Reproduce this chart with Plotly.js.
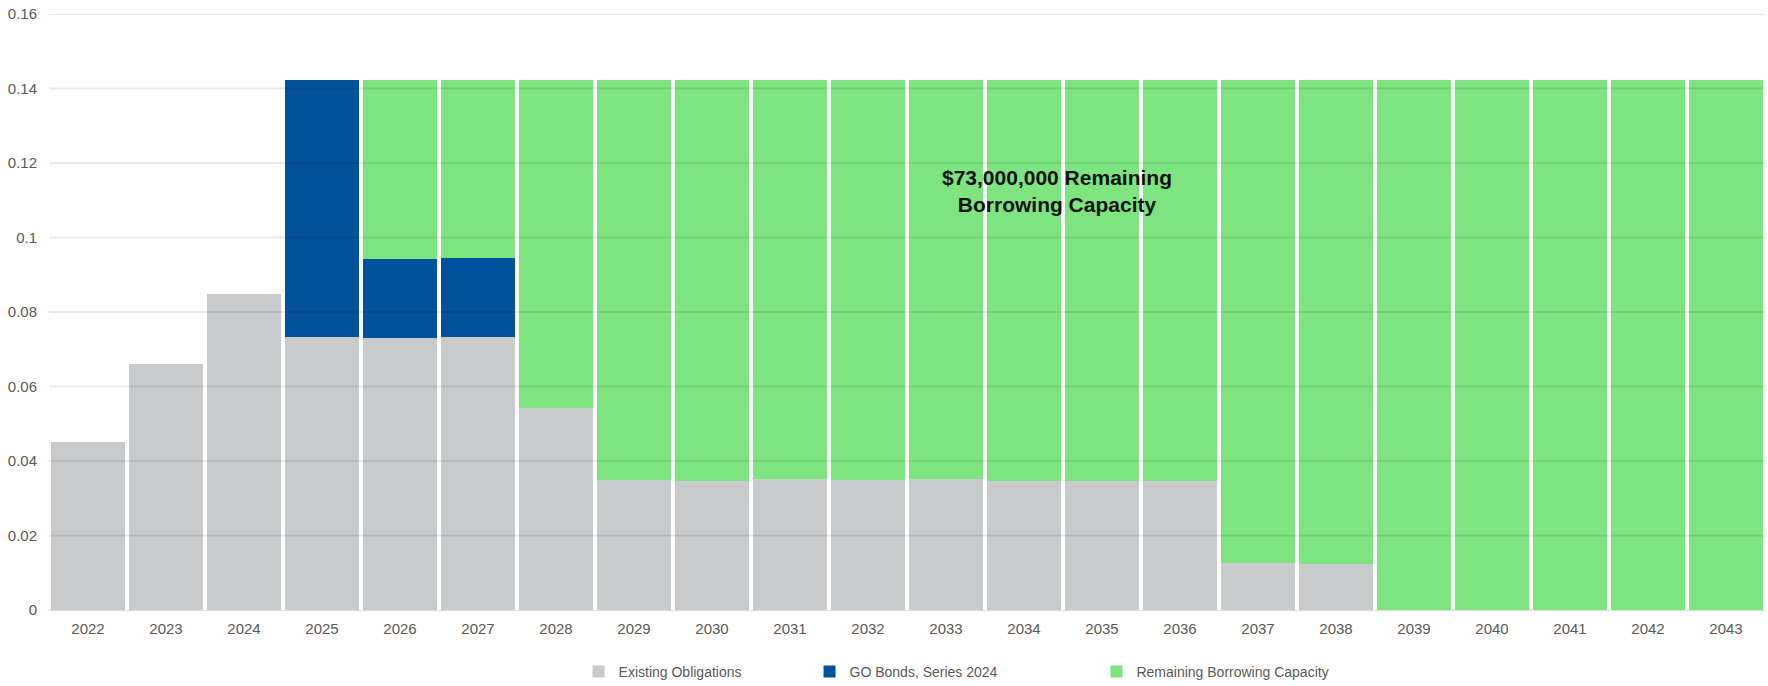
<!DOCTYPE html>
<html>
<head>
<meta charset="utf-8">
<script src="https://cdn.plot.ly/plotly-3.0.1.min.js"></script>
<style>html,body{margin:0;padding:0;background:#fff;}#chart{width:1768px;height:686px;}</style>
</head>
<body>
<div id="chart"></div>
<script>
const years = ['2022','2023','2024','2025','2026','2027','2028','2029','2030','2031','2032','2033','2034','2035','2036','2037','2038','2039','2040','2041','2042','2043'];
const existingObligations = [0.0450,0.0660,0.0848,0.0733,0.0730,0.0734,0.0543,0.0349,0.0346,0.0353,0.0349,0.0351,0.0346,0.0347,0.0346,0.0126,0.0124,0,0,0,0,0];
const goBonds2024 = [0,0,0,0.0689,0.0212,0.0212,0,0,0,0,0,0,0,0,0,0,0,0,0,0,0,0];
const remainingCapacity = [0,0,0,0,0.0480,0.0476,0.0879,0.1073,0.1076,0.1069,0.1073,0.1071,0.1076,0.1075,0.1076,0.1296,0.1298,0.1422,0.1422,0.1422,0.1422,0.1422];
const yTicks = [0,0.02,0.04,0.06,0.08,0.1,0.12,0.14,0.16];
const yTickLabels = ['0','0.02','0.04','0.06','0.08','0.1','0.12','0.14','0.16'];
const annotationText = '$73,000,000 Remaining<br>Borrowing Capacity';

const FONT = '"Liberation Sans Narrow", "Arial Narrow", "Liberation Sans", Arial, sans-serif';
const legendFont = {family:FONT, size:14, color:'#595959'};

const traces = [
  {type:'bar', name:'Existing Obligations', x:years, y:existingObligations, marker:{color:'#c8cacc', line:{width:0}}, legend:'legend'},
  {type:'bar', name:'GO Bonds, Series 2024', x:years, y:goBonds2024, marker:{color:'#00529b', line:{width:0}}, legend:'legend2'},
  {type:'bar', name:'Remaining Borrowing Capacity', x:years, y:remainingCapacity, marker:{color:'#7de47f', line:{width:0}}, legend:'legend3'}
];

const gridShapes = yTicks.filter(v => v > 0).map(v => ({
  type:'line', xref:'paper', yref:'y', x0:0, x1:1, y0:v, y1:v, layer:'above',
  line:{color:'rgba(0,0,0,0.09)', width:2}
}));

function mkLegend(x){
  return {orientation:'h', x:x, xanchor:'left', y:-0.077, yanchor:'top', font:legendFont,
          itemwidth:30, bgcolor:'rgba(0,0,0,0)', borderwidth:0};
}

const layout = {
  width:1768, height:686,
  margin:{l:49, r:3, t:14, b:76, autoexpand:false},
  paper_bgcolor:'#ffffff', plot_bgcolor:'#ffffff',
  barmode:'stack', bargap:0.045,
  font:{family:FONT, color:'#595959', size:15},
  showlegend:true,
  legend: mkLegend(0.3086),
  legend2: mkLegend(0.4432),
  legend3: mkLegend(0.6104),
  xaxis:{type:'category', showgrid:false, zeroline:false, showline:true, linecolor:'#dcdcdc', linewidth:1,
         ticks:'', tickfont:{family:FONT, size:15, color:'#595959'}, ticklabelstandoff:5, fixedrange:true,
         automargin:false},
  yaxis:{range:[0,0.16], tickmode:'array', tickvals:yTicks, ticktext:yTickLabels,
         showgrid:false, zeroline:false, showline:false, automargin:false,
         ticks:'', tickfont:{family:FONT, size:15, color:'#595959'}, ticklabelstandoff:11, fixedrange:true},
  shapes: gridShapes,
  annotations:[{xref:'x', yref:'y', x:12.42, y:0.1125, text:annotationText, showarrow:false,
                font:{family:FONT, size:21, color:'#111111', weight:'bold'}, align:'center'}]
};

Plotly.newPlot('chart', traces, layout, {displayModeBar:false, staticPlot:true});
</script>
</body>
</html>
